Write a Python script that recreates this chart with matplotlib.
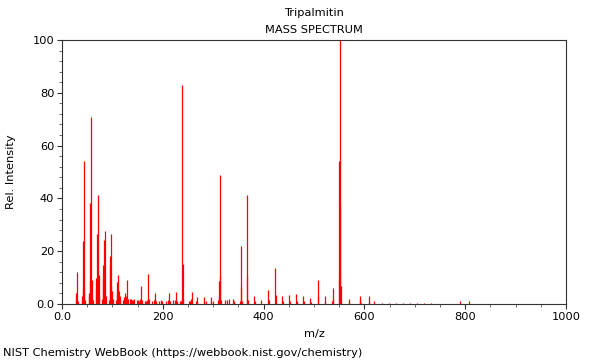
import matplotlib
matplotlib.use("Agg")
import matplotlib.pyplot as plt
from matplotlib.ticker import MultipleLocator, FuncFormatter

title = "Tripalmitin"
subtitle = "MASS SPECTRUM"
footer = "NIST Chemistry WebBook (https://webbook.nist.gov/chemistry)"

mz = [27, 28, 29, 31, 39, 40, 41, 42, 43, 44, 45, 53, 54, 55, 56, 57, 58, 59, 60, 61,
      67, 68, 69, 70, 71, 72, 73, 74, 79, 81, 82, 83, 84, 85, 86, 87, 93, 95, 96, 97,
      98, 99, 100, 101, 107, 109, 110, 111, 112, 113, 114, 115, 121, 123, 124, 125, 126,
      127, 128, 129, 130, 135, 137, 138, 139, 141, 143, 149, 151, 152, 155, 157, 158,
      165, 167, 169, 171, 172, 179, 183, 184, 185, 186, 193, 197, 199, 207, 211, 213,
      214, 221, 225, 227, 228, 235, 237, 238, 239, 240, 241, 251, 253, 255, 256, 257,
      258, 265, 267, 268, 281, 282, 285, 295, 296, 299, 309, 311, 312, 313, 314, 315,
      323, 327, 331, 339, 341, 353, 355, 356, 357, 367, 368, 369, 381, 382, 395, 409,
      410, 423, 424, 437, 438, 451, 452, 465, 466, 479, 480, 493, 494, 507, 508, 521,
      522, 535, 537, 538, 549, 550, 551, 552, 553, 554, 569, 570, 591, 592, 593, 609,
      610, 620, 634, 648, 662, 676, 690, 704, 718, 732, 789, 807]
intensity = [4, 1.5, 12, 1, 3, 1, 23.7, 6, 54, 5, 1.5, 3, 4, 38.2, 9, 71, 3, 2, 9, 1.5,
             10, 6, 26.6, 9, 41.2, 3, 10.8, 3, 2, 14.6, 9, 24.3, 5, 27.8, 2, 3, 1.5, 14.6, 18, 7,
             26.6, 5, 1.5, 2, 1.5, 8.5, 4, 10.8, 4, 5, 1.5, 3, 1.5, 2.5, 1.5, 4, 2,
             3, 2, 9, 2, 2, 2, 1.5, 1.5, 1.5, 2, 1.5, 1.5, 1, 2, 6.8, 1.5,
             1, 1, 1.5, 11.2, 2, 1, 1.5, 2, 4, 1, 1, 1.5, 1, 1, 1.5, 4,
             1, 1.5, 1.5, 4.7, 1, 1, 1, 2, 83, 15.2, 2, 1, 1, 1.5, 2, 4.7,
             1, 1, 2.5, 1, 2.5, 1, 1, 2.5, 1, 1, 1.5, 8.6, 3, 48.7, 10.8, 1.5,
             1.5, 1.5, 2, 2, 1, 1, 21.8, 6.5, 1, 41.1, 10.5, 1.5, 3, 1, 1.5, 5.4,
             1.5, 13.7, 3.5, 3, 1, 3.5, 1, 3.8, 1, 3, 1, 2.3, 0.8, 9, 3, 3,
             1, 1, 6, 2, 9.5, 54, 100, 38, 7, 1, 1.8, 0.6, 3, 1.5, 0.5, 3,
             1, 1.2, 0.4, 0.3, 0.4, 0.4, 0.4, 0.4, 0.4, 0.4, 1.0, 1.0]

fs = 8.2
fig = plt.figure(figsize=(6, 3.6), dpi=100)
ax = fig.add_axes([62/600, 1-304/360, (566-62)/600, (304-40)/360])

ax.vlines(mz, 0, intensity, colors="#ff0000", linewidth=0.9)

ax.set_xlim(0, 1000)
ax.set_ylim(0, 100)
ax.xaxis.set_major_locator(MultipleLocator(200))
ax.xaxis.set_minor_locator(MultipleLocator(50))
ax.yaxis.set_major_locator(MultipleLocator(20))
ax.yaxis.set_minor_locator(MultipleLocator(4))
fmt = FuncFormatter(lambda v, p: "0.0" if v == 0 else f"{int(round(v))}")
ax.xaxis.set_major_formatter(fmt)
ax.yaxis.set_major_formatter(fmt)
ax.tick_params(which="major", length=3.5, width=0.8, labelsize=fs, direction="out", color="#333333", pad=2)
ax.tick_params(which="minor", length=2, width=0.6, direction="out", color="#555555")
for s in ax.spines.values():
    s.set_linewidth(0.8)
    s.set_color("#333333")

ax.set_xlabel("m/z", fontsize=fs, labelpad=5)
ax.set_ylabel("Rel. Intensity", fontsize=fs, labelpad=12)

fig.text(314/600, 1-13/360, title, ha="center", va="center", fontsize=fs)
fig.text(314/600, 1-30/360, subtitle, ha="center", va="center", fontsize=fs)
fig.text(3/600, 1-353/360, footer, ha="left", va="center", fontsize=fs)

fig.savefig("out.png", dpi=100)
